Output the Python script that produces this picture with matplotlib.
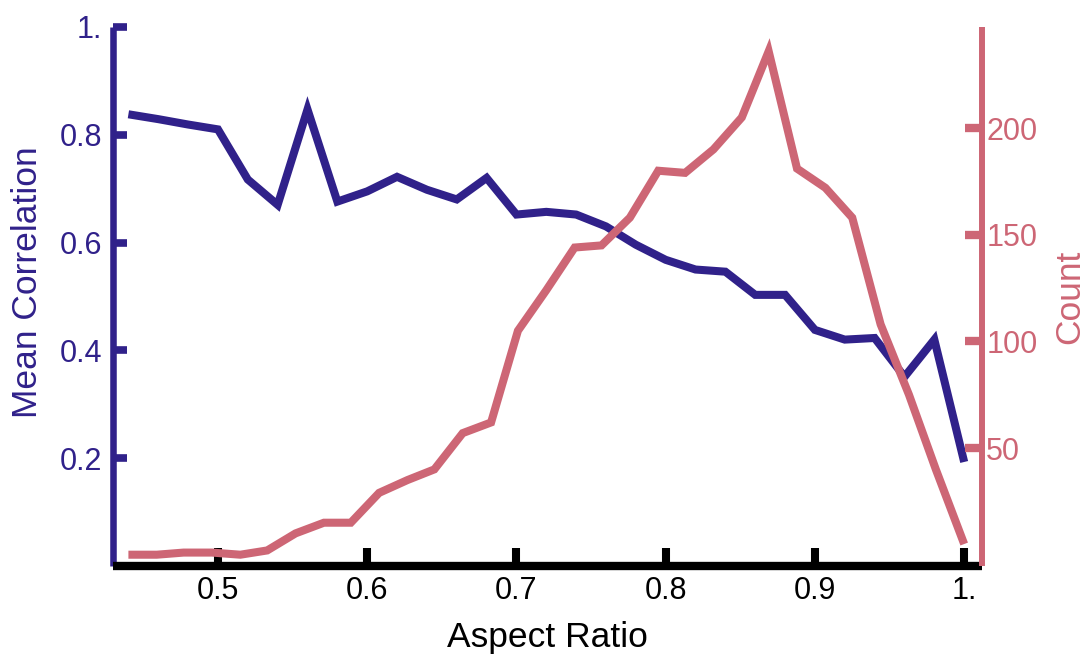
import matplotlib
matplotlib.use("Agg")
import matplotlib.pyplot as plt

plt.rcParams['font.family'] = ['Liberation Sans', 'DejaVu Sans']

# mean correlation, sampled every 0.02 in aspect ratio
corr_x = [0.44, 0.46, 0.48, 0.50, 0.52, 0.54, 0.56, 0.58, 0.60, 0.62,
          0.64, 0.66, 0.68, 0.70, 0.72, 0.74, 0.76, 0.78, 0.80, 0.82,
          0.84, 0.86, 0.88, 0.90, 0.92, 0.94, 0.96, 0.98, 1.00]
corr_y = [0.838, 0.829, 0.819, 0.810, 0.717, 0.670, 0.847, 0.676, 0.695, 0.722,
          0.698, 0.680, 0.720, 0.652, 0.657, 0.652, 0.630, 0.596, 0.568, 0.550,
          0.546, 0.503, 0.503, 0.438, 0.420, 0.423, 0.351, 0.420, 0.193]

# counts, 31 bins over the same range
count_x = [0.440, 0.459, 0.477, 0.496, 0.515, 0.533, 0.552, 0.571, 0.589, 0.608,
           0.627, 0.645, 0.664, 0.683, 0.701, 0.720, 0.739, 0.757, 0.776, 0.795,
           0.813, 0.832, 0.851, 0.869, 0.888, 0.907, 0.925, 0.944, 0.963, 0.981,
           1.000]
count_y = [0, 0, 1, 1, 0, 2, 10, 15, 15, 29,
           35, 40, 57, 62, 105, 124, 144, 145, 158, 180,
           179, 190, 205, 236, 181, 172, 158, 108, 75, 40,
           5]

xticks = [0.5, 0.6, 0.7, 0.8, 0.9, 1.0]
xtick_labels = ['0.5', '0.6', '0.7', '0.8', '0.9', '1.']
yticks = [0.2, 0.4, 0.6, 0.8, 1.0]
ytick_labels = ['0.2', '0.4', '0.6', '0.8', '1.']
cticks = [50, 100, 150, 200]

blue = '#30218a'
pink = '#cd6675'

fig = plt.figure(figsize=(10.9, 6.59), dpi=100)
ax = fig.add_axes([0.1037, 0.1411, 0.7973, 0.818])
ax2 = ax.twinx()

ax.plot(corr_x, corr_y, color=blue, lw=5.8, solid_joinstyle='miter', solid_capstyle='butt')
ax2.plot(count_x, count_y, color=pink, lw=5.8, solid_joinstyle='miter', solid_capstyle='butt')

ax.set_xlim(0.4297, 1.012)
ax.set_ylim(0, 1.0)
ax2.set_ylim(-5.3, 247.4)

for s in ['top', 'right']:
    ax.spines[s].set_visible(False)
for s in ['top', 'left', 'bottom']:
    ax2.spines[s].set_visible(False)
ax.spines['left'].set_color(blue)
ax.spines['left'].set_linewidth(4.7)
ax.spines['bottom'].set_color('black')
ax.spines['bottom'].set_linewidth(6)
ax2.spines['right'].set_color(pink)
ax2.spines['right'].set_linewidth(4.3)
for sp in [ax.spines['left'], ax.spines['bottom'], ax2.spines['right']]:
    sp.set_capstyle('butt')

ax.set_xticks(xticks, xtick_labels)
ax.set_yticks(yticks, ytick_labels)
ax2.set_yticks(cticks, [str(c) for c in cticks])

ax.tick_params(axis='x', direction='in', length=13, width=5.8, color='black',
               labelsize=22, labelcolor='black', pad=7)
ax.tick_params(axis='y', direction='in', length=10, width=5.5, color=blue,
               labelsize=22, labelcolor=blue, pad=8)
ax2.tick_params(axis='y', direction='in', length=12, width=6, color=pink,
                labelsize=22, labelcolor=pink, pad=3)

ax.set_xlabel('Aspect Ratio', fontsize=25.5, color='black')
ax.set_ylabel('Mean Correlation', fontsize=25.5, color=blue)
ax2.set_ylabel('Count', fontsize=25.5, color=pink, rotation=90)
ax.xaxis.set_label_coords(0.5, -0.133)
ax.yaxis.set_label_coords(-0.098, 0.527)
ax2.yaxis.set_label_coords(1.101, 0.499)
ax.xaxis.label.set_va('center')
ax.yaxis.label.set_va('center')
ax2.yaxis.label.set_va('center')

fig.savefig('out.png', dpi=100)
